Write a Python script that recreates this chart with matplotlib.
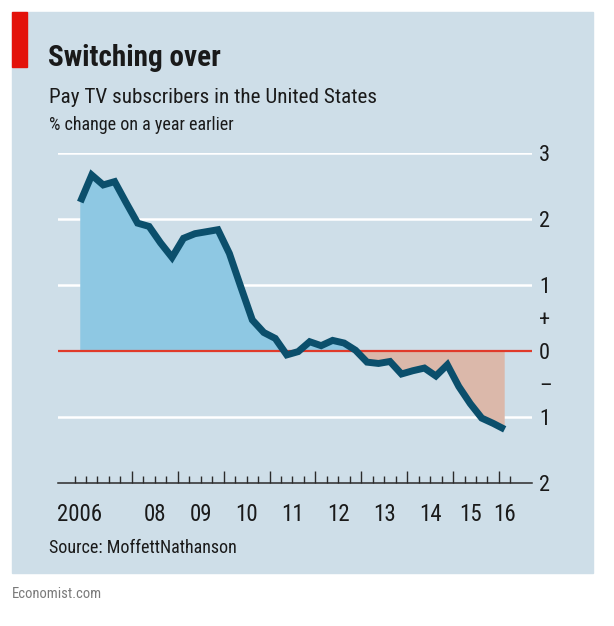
import matplotlib
matplotlib.use("Agg")
import matplotlib.pyplot as plt
import matplotlib.transforms as mtransforms
from matplotlib.patches import Rectangle
import numpy as np

plt.rcParams['font.family'] = ['Roboto Condensed', 'Liberation Sans Narrow', 'Roboto', 'DejaVu Sans']

# quarterly data, Q4 2006 .. Q1 2016, % change on a year earlier
years    = [2006] + [y for y in range(2007, 2016) for _ in range(4)] + [2016]
quarters = [4] + [1, 2, 3, 4] * 9 + [1]
values = [2.26,
          2.67, 2.52, 2.57, 2.25,
          1.94, 1.89, 1.64, 1.42,
          1.71, 1.78, 1.81, 1.84,
          1.48, 0.97, 0.47, 0.28,
          0.19, -0.06, -0.01, 0.14,
          0.08, 0.16, 0.12, 0.01,
          -0.17, -0.19, -0.16, -0.35,
          -0.30, -0.26, -0.38, -0.21,
          -0.54, -0.80, -1.02, -1.10,
          -1.19]

xlabels = ["2006", "08", "09", "10", "11", "12", "13", "14", "15", "16"]
xlabel_pos = [2006.87, 2008.5, 2009.5, 2010.5, 2011.5, 2012.5, 2013.5, 2014.5, 2015.39, 2016.13]
yticks = [3, 2, 1, 0.5, 0, -0.5, -1, -2]
ylabels = ["3", "2", "1", "+", "0", "\u2013", "1", "2"]

W, H = 614, 626
BG = "#cedee8"
LINE = "#0b4f6c"
BLUE = "#8ec8e3"
PINK = "#dbb8aa"
RED = "#e3120b"

x = np.array(years) + (np.array(quarters) - 0.5) / 4
y = np.array(values)

fig = plt.figure(figsize=(W / 100, H / 100), dpi=100)
fig.patch.set_facecolor("white")

def fx(px):
    return px / W

def fy(py):
    return 1 - py / H

# panel + red tag
fig.patches.append(Rectangle((fx(12), fy(573)), fx(593) - fx(12), fy(12) - fy(573),
                             transform=fig.transFigure, color=BG, zorder=-2))
fig.patches.append(Rectangle((fx(12), fy(66.5)), fx(27) - fx(12), fy(12) - fy(66.5),
                             transform=fig.transFigure, color=RED, zorder=-1))

fig.text(fx(48), fy(66), "Switching over", fontsize=21, fontweight="bold",
         color="#1a1a1a", va="baseline")
fig.text(fx(49), fy(103), "Pay TV subscribers in the United States", fontsize=15.2,
         color="#1a1a1a", va="baseline")
fig.text(fx(49), fy(130.5), "% change on a year earlier", fontsize=13,
         color="#1a1a1a", va="baseline")
fig.text(fx(49), fy(553), "Source: MoffettNathanson", fontsize=13,
         color="#1a1a1a", va="baseline")
fig.text(fx(12), fy(598), "Economist.com", fontsize=10.5,
         color="#7a7a7a", va="baseline")

ax = fig.add_axes([fx(58), fy(482.7), fx(532) - fx(58), fy(153.3) - fy(482.7)])
ax.set_facecolor("none")
ax.set_xlim(2006.39, 2016.72)
ax.set_ylim(-2, 3)
for s in ax.spines.values():
    s.set_visible(False)

for g in [3, 2, 1, -1]:
    ax.axhline(g, color="white", lw=1.8, zorder=1)
ax.axhline(-2, color="#2b2b2b", lw=1.1, zorder=1, clip_on=False)

ax.fill_between(x, y, 0, where=y >= 0, interpolate=True, color=BLUE, lw=0, zorder=2)
ax.fill_between(x, y, 0, where=y <= 0, interpolate=True, color=PINK, lw=0, zorder=2)
ax.axhline(0, color="#e03a2a", lw=1.6, zorder=3)
ax.plot(x, y, color=LINE, lw=5, solid_capstyle="butt", solid_joinstyle="miter",
        zorder=4, clip_on=False)

# quarterly ticks, tall ones at year starts 2008-2016
quarter_edges = np.arange(2006.75, 2016.26, 0.25)
tall = [t for t in quarter_edges if abs(t - round(t)) < 1e-6 and t >= 2008]
short = [t for t in quarter_edges if t not in tall]
ax.set_xticks(tall)
ax.set_xticks(short, minor=True)
ax.tick_params(axis="x", which="major", direction="in", length=8.5, width=1,
               color="#2b2b2b", labelbottom=False)
ax.tick_params(axis="x", which="minor", direction="in", length=5, width=1,
               color="#2b2b2b")

ax.yaxis.tick_right()
ax.set_yticks(yticks)
ax.set_yticklabels(ylabels)
ax.tick_params(axis="y", length=0, pad=5, labelsize=16, labelcolor="#1a1a1a")

trans = mtransforms.blended_transform_factory(ax.transData, fig.transFigure)
for lab, pos in zip(xlabels, xlabel_pos):
    ax.text(pos, fy(521), lab, transform=trans, ha="center", va="baseline",
            fontsize=16.5, color="#1a1a1a")

fig.savefig("out.png", dpi=100, facecolor="white")
